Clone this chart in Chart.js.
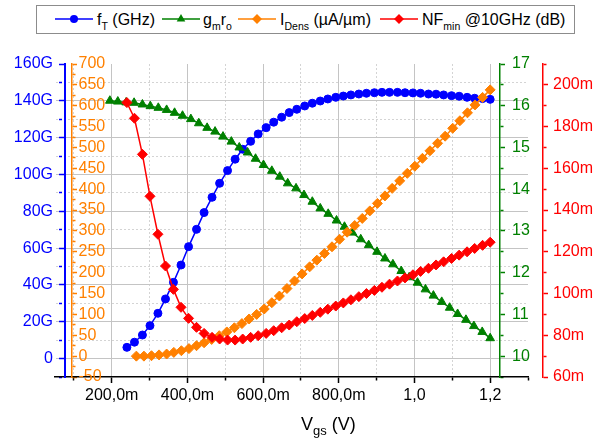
<!DOCTYPE html>
<html>
<head>
<meta charset="utf-8">
<script src="https://cdn.jsdelivr.net/npm/chart.js@4.4.0/dist/chart.umd.min.js"></script>
<style>
  html, body { margin: 0; padding: 0; background: #fff; }
  #wrap { position: relative; width: 608px; height: 439px; font-family: "Liberation Sans", Arial, sans-serif; color: #000; }
  #chart { position: absolute; left: 0; top: 0; }
  .legend-box { position: absolute; left: 36px; top: 5px; width: 539px; height: 29px; box-sizing: border-box; border: 1px solid #8c8c8c; background: #fff; }
  .sym { position: absolute; top: 13px; }
  .lbl { position: absolute; top: 12px; font-size: 16px; line-height: 16px; white-space: nowrap; }
  .lbl sub { font-size: 10.5px; vertical-align: baseline; position: relative; top: 5px; }
  .xtitle { position: absolute; left: 301px; top: 415px; font-size: 18px; line-height: 18px; white-space: nowrap; }
  .xtitle sub { font-size: 13px; vertical-align: baseline; position: relative; top: 5px; }
</style>
</head>
<body>
<div id="wrap">
  <canvas id="chart" width="608" height="439"></canvas>

  <div class="legend-box"></div>
  <svg class="sym" style="left:55px" width="38" height="12"><line x1="0" y1="6" x2="38" y2="6" stroke="#0000ff" stroke-width="1.5"/><circle cx="19" cy="6" r="4" fill="#0000ff"/></svg>
  <span class="lbl" style="left:97px">f<sub>T</sub> (GHz)</span>
  <svg class="sym" style="left:162px" width="38" height="12"><line x1="0" y1="6" x2="38" y2="6" stroke="#008000" stroke-width="1.5"/><polygon points="19,1 23.3,8.5 14.7,8.5" fill="#008000"/></svg>
  <span class="lbl" style="left:203px">g<sub>m</sub>r<sub>o</sub></span>
  <svg class="sym" style="left:238px" width="38" height="12"><line x1="0" y1="6" x2="38" y2="6" stroke="#ff8000" stroke-width="1.5"/><polygon points="14,6 19,1 24,6 19,11" fill="#ff8000"/></svg>
  <span class="lbl" style="left:280px">I<sub>Dens</sub> (µA/µm)</span>
  <svg class="sym" style="left:380px" width="38" height="12"><line x1="0" y1="6" x2="38" y2="6" stroke="#ff0000" stroke-width="1.5"/><polygon points="14,6 19,1 24,6 19,11" fill="#ff0000"/></svg>
  <span class="lbl" style="left:422px">NF<sub>min</sub> @10GHz (dB)</span>

  <div class="xtitle">V<sub>gs</sub> (V)</div>
</div>

<script>
// Vgs sweep points (V) for each measured quantity
const vgs = [0.240, 0.260, 0.281, 0.301, 0.322, 0.342, 0.363, 0.383, 0.403, 0.424, 0.444, 0.465,
             0.485, 0.506, 0.526, 0.546, 0.567, 0.587, 0.608, 0.628, 0.649, 0.669, 0.689, 0.710,
             0.730, 0.751, 0.771, 0.792, 0.812, 0.832, 0.853, 0.873, 0.894, 0.914, 0.934, 0.955,
             0.975, 0.996, 1.016, 1.037, 1.057, 1.077, 1.098, 1.118, 1.139, 1.159, 1.180, 1.200];
const vgsIdens = [0.265, 0.285, 0.305, 0.325, 0.345, 0.364, 0.384, 0.404, 0.424, 0.444, 0.464, 0.484,
                  0.504, 0.524, 0.544, 0.563, 0.583, 0.603, 0.623, 0.643, 0.663, 0.683, 0.703, 0.723,
                  0.742, 0.762, 0.782, 0.802, 0.822, 0.842, 0.862, 0.882, 0.902, 0.922, 0.941, 0.961,
                  0.981, 1.001, 1.021, 1.041, 1.061, 1.081, 1.101, 1.120, 1.140, 1.160, 1.180, 1.200];
const vgsGain = [0.195, 0.216, 0.238, 0.259, 0.281, 0.302, 0.323, 0.345, 0.366, 0.387, 0.409, 0.430,
                 0.452, 0.473, 0.494, 0.516, 0.537, 0.559, 0.580, 0.601, 0.623, 0.644, 0.665, 0.687,
                 0.708, 0.730, 0.751, 0.772, 0.794, 0.815, 0.836, 0.858, 0.879, 0.901, 0.922, 0.943,
                 0.965, 0.986, 1.008, 1.029, 1.050, 1.072, 1.093, 1.114, 1.136, 1.157, 1.179, 1.200];

// fT in GHz
const fT = [6.1, 8.9, 12.8, 17.9, 24.6, 32.4, 41.4, 50.8, 60.8, 70.2, 79.3, 87.6,
            95.2, 102.1, 108.3, 113.7, 118.0, 122.0, 125.4, 128.4, 131.1, 133.6, 135.4, 137.2,
            138.7, 139.9, 141.0, 141.9, 142.6, 143.2, 143.7, 144.1, 144.4, 144.6, 144.6, 144.6,
            144.4, 144.3, 144.1, 143.7, 143.6, 143.2, 142.8, 142.5, 141.9, 141.4, 141.2, 140.8];
// intrinsic gain gm*ro
const gmro = [16.12, 16.10, 16.08, 16.07, 16.03, 15.99, 15.95, 15.90, 15.83, 15.76, 15.68, 15.58,
              15.47, 15.38, 15.26, 15.14, 15.00, 14.88, 14.73, 14.58, 14.44, 14.30, 14.14, 14.02,
              13.86, 13.70, 13.54, 13.41, 13.25, 13.10, 12.96, 12.80, 12.66, 12.50, 12.34, 12.20,
              12.04, 11.89, 11.76, 11.60, 11.45, 11.30, 11.16, 11.01, 10.87, 10.72, 10.58, 10.43];
// current density in uA/um
const iDens = [0, 0, 1, 3, 5, 9, 13, 18, 25, 32, 40, 49,
               58, 68, 78, 89, 100, 113, 128, 144, 162, 180, 197, 214,
               230, 246, 262, 280, 297, 313, 330, 348, 366, 384, 402, 420,
               438, 455, 474, 492, 510, 527, 546, 564, 583, 602, 620, 638];
// minimum noise figure at 10 GHz in dB
const nfMin = [0.1915, 0.1840, 0.1667, 0.1466, 0.1284, 0.1132, 0.1020, 0.0934, 0.0881, 0.0838, 0.0809, 0.0790,
               0.0782, 0.0777, 0.0777, 0.0782, 0.0790, 0.0798, 0.0809, 0.0822, 0.0836, 0.0849, 0.0865, 0.0880,
               0.0895, 0.0910, 0.0925, 0.0940, 0.0955, 0.0970, 0.0985, 0.1000, 0.1015, 0.1030, 0.1045, 0.1060,
               0.1075, 0.1090, 0.1106, 0.1121, 0.1137, 0.1152, 0.1168, 0.1184, 0.1200, 0.1216, 0.1231, 0.1246];

// axis ticks
const vgsMajor = [0.2, 0.4, 0.6, 0.8, 1.0, 1.2];
const vgsLabels = ['200,0m', '400,0m', '600,0m', '800,0m', '1,0', '1,2'];
const vgsMinor = [0.1, 0.3, 0.5, 0.7, 0.9, 1.1, 1.3];
const ftMajor = [0, 20, 40, 60, 80, 100, 120, 140, 160];
const ftLabels = ['0', '20G', '40G', '60G', '80G', '100G', '120G', '140G', '160G'];
const ftMinor = [-10, 10, 30, 50, 70, 90, 110, 130, 150];
const idensMajor = [-50, 0, 50, 100, 150, 200, 250, 300, 350, 400, 450, 500, 550, 600, 650, 700];
const idensLabels = ['-50', '0', '50', '100', '150', '200', '250', '300', '350', '400', '450', '500', '550', '600', '650', '700'];
const idensMinor = [-25, 25, 75, 125, 175, 225, 275, 325, 375, 425, 475, 525, 575, 625, 675];
const gainMajor = [10, 11, 12, 13, 14, 15, 16, 17];
const gainLabels = ['10', '11', '12', '13', '14', '15', '16', '17'];
const gainMinor = [9.5, 10.5, 11.5, 12.5, 13.5, 14.5, 15.5, 16.5];
const nfMajor = [0.06, 0.08, 0.10, 0.12, 0.14, 0.16, 0.18, 0.20];
const nfLabels = ['60m', '80m', '100m', '120m', '140m', '160m', '180m', '200m'];
const nfMinor = [0.07, 0.09, 0.11, 0.13, 0.15, 0.17, 0.19, 0.21];

const ftColor = '#0000ff';
const gainColor = '#008000';
const idensColor = '#ff8000';
const nfColor = '#ff0000';

Chart.defaults.font.family = '"Liberation Sans", Arial, sans-serif';
Chart.defaults.font.size = 16;

function has(list, v) {
  return list.some(m => Math.abs(m - v) < 1e-6);
}
function labelFrom(major, labels) {
  return v => {
    const i = major.findIndex(m => Math.abs(m - v) < 1e-6);
    return i < 0 ? '' : labels[i];
  };
}
function fixedTicks(major, minor) {
  return axis => {
    axis.ticks = major.concat(minor).sort((a, b) => a - b).map(v => ({value: v}));
  };
}
// minor ticks are drawn short by dashing the tick stroke
function shortMinor(minor) {
  return c => (c.tick && has(minor, c.tick.value)) ? [3, 20] : [];
}
function points(xs, ys) {
  return xs.map((x, i) => ({x: x, y: ys[i]}));
}

// side axes for the right-hand quantities, ticks only
function sideAxis(color, min, max, major, minor, labels, pad, width) {
  return {
    position: 'right', min: min, max: max,
    afterBuildTicks: fixedTicks(major, minor),
    afterFit: axis => { axis.width = width; },
    ticks: { color: color, padding: pad, autoSkip: false, callback: labelFrom(major, labels) },
    grid: { drawOnChartArea: false, tickLength: 5, tickColor: color, tickWidth: 1.5, tickBorderDash: shortMinor(minor) },
    border: { color: color, width: 1.5 }
  };
}

// moves the y axes to where they sit over the plot
const axisPlacement = {
  id: 'axisPlacement',
  afterLayout(chart) {
    const s = chart.scales;
    const put = (axis, left, right) => {
      axis.left = left;
      axis.right = right;
      axis.width = right - left;
      axis._gridLineItems = null;
      axis._labelItems = null;
    };
    put(s.yFt, 10, 65);
    put(s.yIdens, 72, 112);
    put(s.yGain, 500, 540);
    put(s.yNf, 543, 600);
  }
};

new Chart(document.getElementById('chart'), {
  type: 'line',
  data: {
    datasets: [
      {
        label: 'fT (GHz)', data: points(vgs, fT), yAxisID: 'yFt', order: 4,
        borderColor: ftColor, backgroundColor: ftColor, borderWidth: 1.5,
        pointStyle: 'circle', pointRadius: 4, pointBorderWidth: 1
      },
      {
        label: 'gmro', data: points(vgsGain, gmro), yAxisID: 'yGain', order: 3,
        borderColor: gainColor, backgroundColor: gainColor, borderWidth: 1.5,
        pointStyle: 'triangle', pointRadius: 5, pointBorderWidth: 1
      },
      {
        label: 'IDens (µA/µm)', data: points(vgsIdens, iDens), yAxisID: 'yIdens', order: 2,
        borderColor: idensColor, backgroundColor: idensColor, borderWidth: 1.5,
        pointStyle: 'rectRot', pointRadius: 5, pointBorderWidth: 1
      },
      {
        label: 'NFmin @10GHz (dB)', data: points(vgs, nfMin), yAxisID: 'yNf', order: 1,
        borderColor: nfColor, backgroundColor: nfColor, borderWidth: 1.5,
        pointStyle: 'rectRot', pointRadius: 5, pointBorderWidth: 1
      }
    ]
  },
  options: {
    responsive: false,
    animation: false,
    devicePixelRatio: 1,
    layout: { padding: { top: 64, left: 0, right: 0, bottom: 0 } },
    plugins: { legend: { display: false }, tooltip: { enabled: false } },
    elements: { line: { tension: 0 } },
    scales: {
      x: {
        type: 'linear', position: 'bottom', min: 0.05, max: 1.3,
        afterBuildTicks: fixedTicks(vgsMajor, vgsMinor),
        afterFit: axis => { axis.height = 62; },
        ticks: { color: '#000', padding: 3, maxRotation: 0, autoSkip: false, callback: labelFrom(vgsMajor, vgsLabels) },
        grid: {
          color: c => {
            if (!c.tick || Math.abs(c.tick.value - 1.3) < 1e-6) return 'rgba(0,0,0,0)';
            return has(vgsMinor, c.tick.value) ? '#d4d4d4' : '#c4c4c4';
          },
          lineWidth: 1, tickLength: 6, tickColor: '#000', tickWidth: 1.5,
          tickBorderDash: shortMinor(vgsMinor)
        },
        border: { color: '#000', width: 1.5, dash: c => (c.tick && has(vgsMinor, c.tick.value)) ? [2, 2] : [] }
      },
      yFt: {
        position: 'left', min: -10, max: 160,
        afterBuildTicks: fixedTicks(ftMajor, ftMinor),
        afterFit: axis => { axis.width = 55; },
        ticks: { color: ftColor, padding: 6, autoSkip: false, callback: labelFrom(ftMajor, ftLabels) },
        grid: {
          color: c => {
            if (!c.tick || c.tick.value === 160 || c.tick.value === -10) return 'rgba(0,0,0,0)';
            return has(ftMinor, c.tick.value) ? '#d4d4d4' : '#c4c4c4';
          },
          lineWidth: 1, tickLength: 6, tickColor: ftColor, tickWidth: 1.5,
          tickBorderDash: shortMinor(ftMinor)
        },
        border: { color: ftColor, width: 2, dash: c => (c.tick && has(ftMinor, c.tick.value)) ? [2, 2] : [] }
      },
      yIdens: sideAxis(idensColor, -50, 700, idensMajor, idensMinor, idensLabels, 1.5, 0),
      yGain: sideAxis(gainColor, 9.5, 17, gainMajor, gainMinor, gainLabels, 7, 0),
      yNf: sideAxis(nfColor, 0.06, 0.21, nfMajor, nfMinor, nfLabels, 5, 80)
    }
  },
  plugins: [axisPlacement]
});
</script>
</body>
</html>
